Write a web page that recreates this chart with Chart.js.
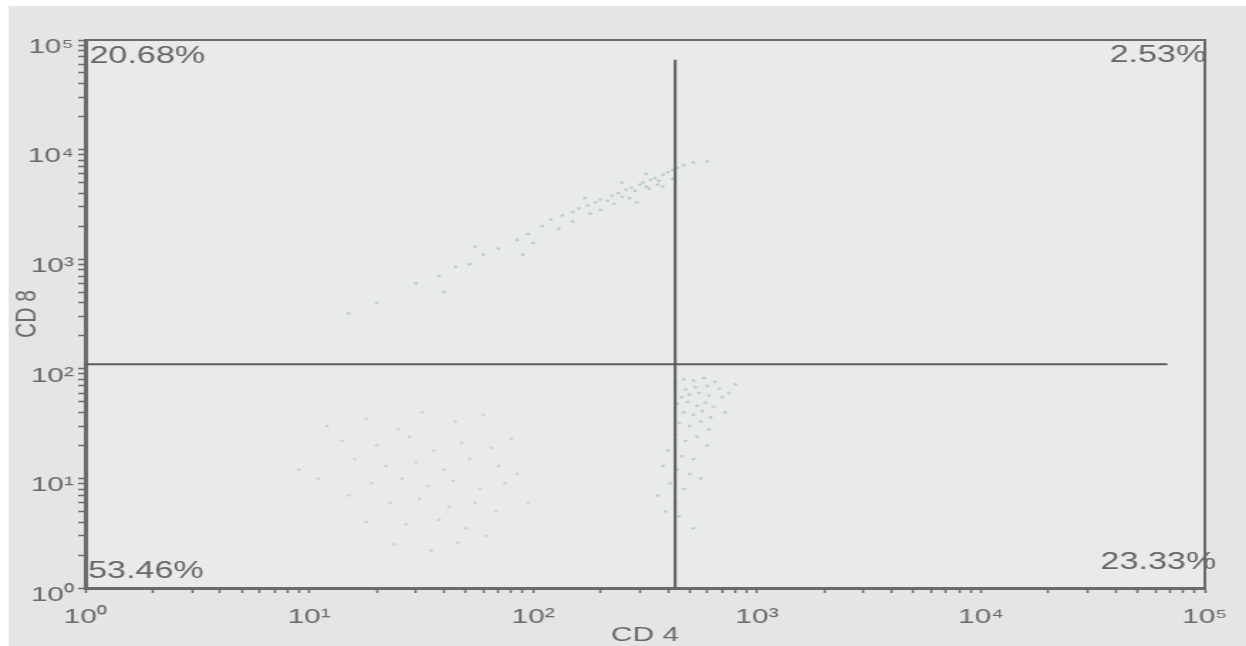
<!DOCTYPE html>
<html>
<head>
<meta charset="utf-8">
<title>CD4 / CD8</title>
<script src="https://cdn.jsdelivr.net/npm/chart.js@4/dist/chart.umd.min.js"></script>
<style>
  html, body { margin: 0; padding: 0; background: #fff; overflow: hidden; }
  /* the printout is drawn wide, so the canvas is stretched sideways */
  #wrap { width: 877px; height: 646px; transform: scaleX(1.4208); transform-origin: 0 0; }
</style>
</head>
<body>
<div id="wrap"><canvas id="plot" width="877" height="646"></canvas></div>
<script>
// axis labels
var X_TITLE = "CD 4";
var Y_TITLE = "CD 8";
var TICK_LABELS = ["10\u2070", "10\u00b9", "10\u00b2", "10\u00b3", "10\u2074", "10\u2075"];
var AXIS_MIN = 1;
var AXIS_MAX = 100000;

// quadrant percentages: top-left, top-right, bottom-left, bottom-right
var QUAD_LABELS = ["20.68%", "2.53%", "53.46%", "23.33%"];

// gate lines
var GATE_X = [{x: 431, y: 1}, {x: 431, y: 66000}];
var GATE_Y = [{x: 1, y: 110}, {x: 68000, y: 110}];

// CD4- CD8+ events (faint diagonal streak)
var CD8_POS = [
  {x: 15, y: 320}, {x: 20, y: 400}, {x: 30, y: 600}, {x: 38, y: 700}, {x: 40, y: 500},
  {x: 45, y: 850}, {x: 52, y: 900}, {x: 55, y: 1300}, {x: 60, y: 1100}, {x: 70, y: 1250},
  {x: 85, y: 1500}, {x: 90, y: 1100}, {x: 95, y: 1700}, {x: 100, y: 1400}, {x: 110, y: 2000},
  {x: 120, y: 2300}, {x: 130, y: 1900}, {x: 135, y: 2500}, {x: 150, y: 2700}, {x: 150, y: 2200},
  {x: 160, y: 2900}, {x: 170, y: 3600}, {x: 175, y: 3100}, {x: 180, y: 2600}, {x: 190, y: 3300},
  {x: 200, y: 3500}, {x: 200, y: 2800}, {x: 215, y: 3400}, {x: 225, y: 3800}, {x: 230, y: 3200},
  {x: 240, y: 4000}, {x: 250, y: 3700}, {x: 250, y: 5000}, {x: 260, y: 4300}, {x: 270, y: 3600},
  {x: 275, y: 4500}, {x: 285, y: 4200}, {x: 290, y: 3300}, {x: 300, y: 4800}, {x: 310, y: 5000},
  {x: 320, y: 4600}, {x: 320, y: 6000}, {x: 330, y: 4400}, {x: 335, y: 5300}, {x: 350, y: 5500},
  {x: 360, y: 4800}, {x: 365, y: 5200}, {x: 380, y: 5900}, {x: 380, y: 4600}, {x: 400, y: 6200},
  {x: 420, y: 6500}, {x: 420, y: 5400}, {x: 440, y: 6800}, {x: 470, y: 7200}, {x: 520, y: 7600},
  {x: 600, y: 7800}
];

// CD4+ CD8- events (cluster right of the gate)
var CD4_POS = [
  {x: 430, y: 75}, {x: 470, y: 80}, {x: 520, y: 78}, {x: 580, y: 82}, {x: 650, y: 76},
  {x: 480, y: 65}, {x: 530, y: 68}, {x: 600, y: 70}, {x: 680, y: 66}, {x: 460, y: 55},
  {x: 500, y: 58}, {x: 550, y: 60}, {x: 610, y: 57}, {x: 700, y: 55}, {x: 440, y: 48},
  {x: 490, y: 50}, {x: 540, y: 46}, {x: 590, y: 49}, {x: 640, y: 45}, {x: 470, y: 40},
  {x: 520, y: 38}, {x: 570, y: 41}, {x: 620, y: 36}, {x: 450, y: 32}, {x: 500, y: 30},
  {x: 560, y: 33}, {x: 610, y: 28}, {x: 430, y: 25}, {x: 480, y: 22}, {x: 540, y: 24},
  {x: 600, y: 20}, {x: 400, y: 18}, {x: 460, y: 16}, {x: 520, y: 15}, {x: 380, y: 13},
  {x: 440, y: 12}, {x: 500, y: 11}, {x: 560, y: 10}, {x: 410, y: 9}, {x: 470, y: 8},
  {x: 360, y: 7}, {x: 430, y: 6}, {x: 390, y: 5}, {x: 450, y: 4.5}, {x: 520, y: 3.5},
  {x: 750, y: 60}, {x: 800, y: 72}, {x: 720, y: 40}
];

// CD4- CD8- events (sparse cloud bottom left)
var DOUBLE_NEG = [
  {x: 12, y: 30}, {x: 18, y: 35}, {x: 25, y: 28}, {x: 32, y: 40}, {x: 45, y: 33},
  {x: 60, y: 38}, {x: 14, y: 22}, {x: 20, y: 20}, {x: 28, y: 24}, {x: 36, y: 18},
  {x: 48, y: 21}, {x: 65, y: 19}, {x: 80, y: 23}, {x: 16, y: 15}, {x: 22, y: 13},
  {x: 30, y: 14}, {x: 40, y: 12}, {x: 52, y: 15}, {x: 70, y: 13}, {x: 11, y: 10},
  {x: 19, y: 9}, {x: 26, y: 10}, {x: 34, y: 8.5}, {x: 44, y: 9.5}, {x: 58, y: 8},
  {x: 75, y: 9}, {x: 15, y: 7}, {x: 23, y: 6}, {x: 31, y: 6.5}, {x: 42, y: 5.5},
  {x: 55, y: 6}, {x: 68, y: 5}, {x: 18, y: 4}, {x: 27, y: 3.8}, {x: 38, y: 4.2},
  {x: 50, y: 3.5}, {x: 62, y: 3}, {x: 24, y: 2.5}, {x: 35, y: 2.2}, {x: 46, y: 2.6},
  {x: 9, y: 12}, {x: 85, y: 11}, {x: 95, y: 6}
];

var FONT = "'Liberation Sans', Arial, sans-serif";
var INK = "#6a6a6a";

// minor ticks 1..9 per decade, labels only on the decades
var LOG_TICKS = [];
for (var e = 0; e < 5; e++) {
    for (var m = 1; m < 10; m++) {
        LOG_TICKS.push(m * Math.pow(10, e));
    }
}
LOG_TICKS.push(AXIS_MAX);

function decadeLabel(value) {
    var e = Math.log10(value);
    var r = Math.round(e);
    return Math.abs(e - r) < 1e-9 ? TICK_LABELS[r] : "";
}

function useLogTicks(scale) {
    scale.ticks = LOG_TICKS.map(function(v) { return {value: v}; });
}

// paper background, frame and quadrant numbers
var paperPlugin = {
    id: "paper",
    beforeDraw: function(chart) {
        var ctx = chart.ctx, a = chart.chartArea;
        ctx.save();
        ctx.fillStyle = "#ffffff";
        ctx.fillRect(0, 0, chart.width, chart.height);
        ctx.fillStyle = "#e4e6e5";
        ctx.fillRect(6, 6, chart.width - 6, chart.height - 6);
        ctx.fillStyle = "#e9ebea";
        ctx.fillRect(a.left, a.top, a.right - a.left, a.bottom - a.top);
        ctx.restore();
    },
    afterDraw: function(chart) {
        var ctx = chart.ctx, a = chart.chartArea;
        ctx.save();
        ctx.strokeStyle = INK;
        ctx.lineWidth = 2;
        ctx.beginPath();
        ctx.moveTo(a.left, a.top);
        ctx.lineTo(a.right, a.top);
        ctx.lineTo(a.right, a.bottom);
        ctx.stroke();

        ctx.fillStyle = "#666";
        ctx.font = "24px " + FONT;
        ctx.textBaseline = "middle";
        ctx.textAlign = "left";
        ctx.fillText(QUAD_LABELS[0], a.left + 3, a.top + 16);
        ctx.fillText(QUAD_LABELS[2], a.left + 2, a.bottom - 17);
        ctx.textAlign = "right";
        ctx.fillText(QUAD_LABELS[1], a.right + 1, a.top + 15);
        ctx.fillText(QUAD_LABELS[3], a.right + 8, a.bottom - 26);
        ctx.restore();
    }
};

function eventSet(points, colour) {
    return {
        data: points,
        pointRadius: 1.4,
        pointBorderWidth: 0,
        pointBackgroundColor: colour,
        showLine: false,
        order: 2
    };
}

function gateSet(points) {
    return {
        data: points,
        showLine: true,
        borderColor: "#5c5c5c",
        borderWidth: 2,
        pointRadius: 0,
        fill: false,
        order: 1
    };
}

var axisCommon = {
    type: "logarithmic",
    min: AXIS_MIN,
    max: AXIS_MAX,
    afterBuildTicks: useLogTicks,
    grid: {drawOnChartArea: false, drawTicks: true, tickLength: 5, tickColor: INK, tickWidth: 1.5},
    border: {display: true, color: INK, width: 3}
};

var ctx = document.getElementById("plot").getContext("2d");
var chart = new Chart(ctx, {
    type: "scatter",
    data: {
        datasets: [
            gateSet(GATE_X),
            gateSet(GATE_Y),
            eventSet(CD8_POS, "rgba(110,170,125,0.38)"),
            eventSet(CD4_POS, "rgba(115,170,130,0.38)"),
            eventSet(DOUBLE_NEG, "rgba(140,155,148,0.28)")
        ]
    },
    options: {
        responsive: false,
        animation: false,
        events: [],
        layout: {padding: {left: 6, top: 40, right: 29, bottom: 0}},
        plugins: {legend: {display: false}, tooltip: {enabled: false}},
        scales: {
            x: Object.assign({}, axisCommon, {
                position: "bottom",
                afterFit: function(scale) { scale.height = 58; },
                ticks: {
                    autoSkip: false, maxRotation: 0, minRotation: 0, padding: 12,
                    color: INK, font: {family: FONT, size: 21},
                    callback: decadeLabel
                },
                title: {display: true, text: X_TITLE, color: INK, font: {family: FONT, size: 21}, padding: {top: 0, bottom: -2}}
            }),
            y: Object.assign({}, axisCommon, {
                position: "left",
                afterFit: function(scale) { scale.width = 54; },
                ticks: {
                    autoSkip: false, padding: 3, labelOffset: 7,
                    color: INK, font: {family: FONT, size: 21},
                    callback: decadeLabel
                },
                title: {display: true, text: Y_TITLE, color: INK, font: {family: FONT, size: 21}, padding: {top: 1, bottom: 0}}
            })
        }
    },
    plugins: [paperPlugin]
});
</script>
</body>
</html>
